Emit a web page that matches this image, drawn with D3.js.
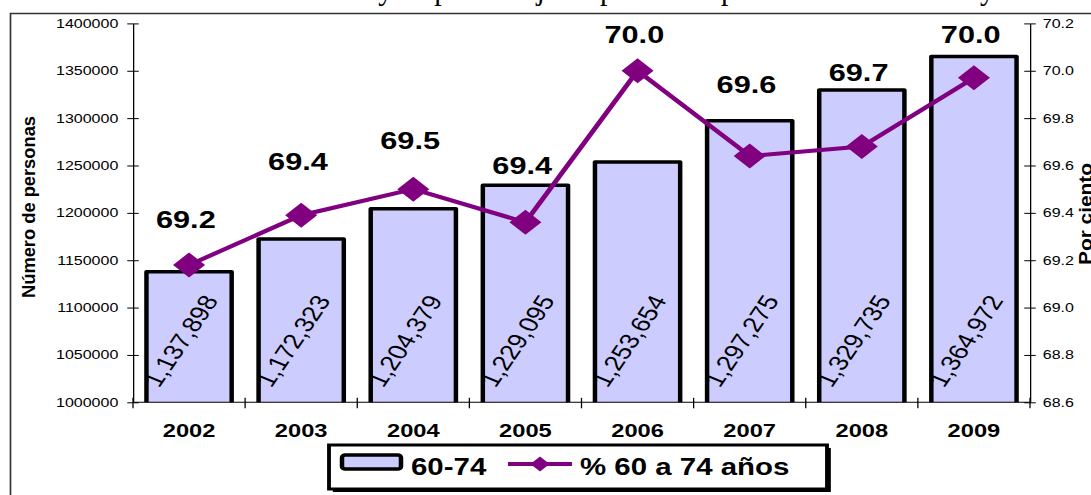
<!DOCTYPE html>
<html>
<head>
<meta charset="utf-8">
<script src="https://cdn.jsdelivr.net/npm/d3@7"></script>
<style>
html, body { margin: 0; padding: 0; background: #fff; overflow: hidden; }
svg { display: block; }
text { font-family: "Liberation Sans", Arial, sans-serif; }
</style>
</head>
<body>
<script>
// values
var years = ["2002", "2003", "2004", "2005", "2006", "2007", "2008", "2009"];
var persons = [1137898, 1172323, 1204379, 1229095, 1253654, 1297275, 1329735, 1364972];
var pct = [69.18, 69.39, 69.50, 69.36, 70.00, 69.64, 69.68, 69.97];
var leftTicks = [1000000, 1050000, 1100000, 1150000, 1200000, 1250000, 1300000, 1350000, 1400000];
var rightTicks = [68.6, 68.8, 69.0, 69.2, 69.4, 69.6, 69.8, 70.0, 70.2];
var titleText = "Población de 60 a 74 años y su porcentaje respecto a la población de 60 años y más";

// how far each % label sits above its marker (labels were hand placed)
var pctLabelLift = [37, 45, 40, 48, 28, 63, 66, 35];

// the original picture is stretched sideways, so draw narrow and scale x
var sx = 1.28;
var W = 1091, H = 495;
var purple = "#800080", lavender = "#CCCCFF";

var svg = d3.select("body").append("svg")
    .attr("width", W)
    .attr("height", H);
var g = svg.append("g")
    .attr("transform", "scale(" + sx + ",1)");

var x = d3.scaleBand()
    .domain(years)
    .range([133 / sx, 1030 / sx]);
var yL = d3.scaleLinear()
    .domain([1000000, 1400000])
    .range([402.3, 23.4]);
var yR = d3.scaleLinear()
    .domain([68.6, 70.2])
    .range([402.3, 23.4]);
var yBase = yL.range()[0];

// cut off title above the frame, only the tails show
g.append("text")
    .attr("x", 60 / sx)
    .attr("y", -1.5)
    .attr("textLength", 990 / sx)
    .attr("lengthAdjust", "spacingAndGlyphs")
    .style("font-family", "'Liberation Serif', 'Times New Roman', serif")
    .style("font-size", "32px")
    .text(titleText);

// outer frame (only top and left are inside the picture)
g.append("path")
    .attr("d", "M" + (10.5 / sx) + "," + H + "V13.5H" + (W / sx + 2))
    .attr("fill", "none")
    .attr("stroke", "#333")
    .attr("stroke-width", 1.3);

// bars
var barW = x.bandwidth() * 0.76;
var bars = g.append("g").selectAll("g")
    .data(persons)
    .enter().append("g");
bars.append("rect")
    .attr("x", function(d, i) { return x(years[i]) + (x.bandwidth() - barW) / 2; })
    .attr("y", function(d) { return yL(d); })
    .attr("width", barW)
    .attr("height", function(d) { return yBase - yL(d); })
    .attr("fill", lavender);
bars.append("path")
    .attr("d", function(d, i) {
        var l = x(years[i]) + (x.bandwidth() - barW) / 2;
        return "M" + l + "," + yBase + "V" + yL(d) + "H" + (l + barW) + "V" + yBase;
    })
    .attr("fill", "none")
    .attr("stroke", "#000")
    .attr("stroke-width", 3.5)
    .attr("stroke-linejoin", "round");

// axes, ticks cross the axis line
var tk = 4.5;
var axL = g.append("g")
    .attr("transform", "translate(" + x.range()[0] + ",0)")
    .call(d3.axisLeft(yL).tickValues(leftTicks).tickFormat(d3.format("d"))
        .tickSizeInner(tk).tickSizeOuter(0).tickPadding(7));
axL.selectAll(".tick line").attr("x1", tk);
axL.selectAll(".tick text").style("font-size", "12.5px");

var axR = g.append("g")
    .attr("transform", "translate(" + x.range()[1] + ",0)")
    .call(d3.axisRight(yR).tickValues(rightTicks).tickFormat(d3.format(".1f"))
        .tickSizeInner(tk).tickSizeOuter(0).tickPadding(5.5));
axR.selectAll(".tick line").attr("x1", -tk);
axR.selectAll(".tick text").style("font-size", "12.5px");

g.selectAll(".domain").attr("stroke", "#000");
g.selectAll(".tick line").attr("stroke", "#000");
g.selectAll(".tick text").attr("fill", "#000").style("font-family", "'Liberation Sans', Arial, sans-serif");

// category axis: line plus cross ticks on band edges
g.append("line")
    .attr("x1", x.range()[0]).attr("x2", x.range()[1])
    .attr("y1", yBase).attr("y2", yBase)
    .attr("stroke", "#000");
g.append("g").selectAll("line")
    .data(d3.range(years.length + 1))
    .enter().append("line")
    .attr("x1", function(i) { return x.range()[0] + i * x.step(); })
    .attr("x2", function(i) { return x.range()[0] + i * x.step(); })
    .attr("y1", yBase - tk).attr("y2", yBase + 6)
    .attr("stroke", "#000");
g.append("g").selectAll("text")
    .data(years)
    .enter().append("text")
    .attr("x", function(d) { return x(d) + x.bandwidth() / 2; })
    .attr("y", 437)
    .attr("text-anchor", "middle")
    .style("font-size", "18.5px")
    .style("font-weight", "bold")
    .text(function(d) { return d; });

// rotated values inside the bars
g.append("g").selectAll("text")
    .data(persons)
    .enter().append("text")
    .attr("transform", function(d, i) {
        return "translate(" + (x(years[i]) + x.bandwidth() / 2 - 6.5) + ",341) rotate(-62)";
    })
    .attr("text-anchor", "middle")
    .attr("dy", "0.35em")
    .attr("textLength", 100)
    .attr("lengthAdjust", "spacingAndGlyphs")
    .style("font-size", "21px")
    .text(function(d) { return d3.format(",")(d); });

// percentage line
var line = d3.line()
    .x(function(d, i) { return x(years[i]) + x.bandwidth() / 2; })
    .y(function(d) { return yR(d); });
g.append("path")
    .datum(pct)
    .attr("d", line)
    .attr("fill", "none")
    .attr("stroke", purple)
    .attr("stroke-width", 4);
var dm = 12.5;
g.append("g").selectAll("path")
    .data(pct)
    .enter().append("path")
    .attr("transform", function(d, i) {
        return "translate(" + (x(years[i]) + x.bandwidth() / 2) + "," + yR(d) + ")";
    })
    .attr("d", "M0," + (-dm) + "L" + dm + ",0L0," + dm + "L" + (-dm) + ",0Z")
    .attr("fill", purple);

g.append("g").selectAll("text")
    .data(pct)
    .enter().append("text")
    .attr("x", function(d, i) { return x(years[i]) + x.bandwidth() / 2 - 2.5; })
    .attr("y", function(d, i) { return yR(d) - pctLabelLift[i]; })
    .attr("text-anchor", "middle")
    .style("font-size", "24px")
    .style("font-weight", "bold")
    .text(function(d) { return d3.format(".1f")(d); });

// axis titles
g.append("text")
    .attr("transform", "translate(" + (35 / sx) + ",207) rotate(-90)")
    .attr("text-anchor", "middle")
    .attr("textLength", 182)
    .attr("lengthAdjust", "spacingAndGlyphs")
    .style("font-size", "14.5px")
    .style("font-weight", "bold")
    .text("Número de personas");
g.append("text")
    .attr("transform", "translate(" + (1092 / sx) + ",214) rotate(-90)")
    .attr("text-anchor", "middle")
    .attr("textLength", 102)
    .attr("lengthAdjust", "spacingAndGlyphs")
    .style("font-size", "14.5px")
    .style("font-weight", "bold")
    .text("Por ciento");

// legend
var lg = g.append("g");
var lx = 329 / sx, ly = 445, lw = (827 - 329) / sx, lh = 44;
lg.append("rect")
    .attr("x", lx + 3).attr("y", ly + 3)
    .attr("width", lw).attr("height", lh)
    .attr("fill", "#000");
lg.append("rect")
    .attr("x", lx).attr("y", ly)
    .attr("width", lw).attr("height", lh)
    .attr("fill", "#fff")
    .attr("stroke", "#000")
    .attr("stroke-width", 3);
lg.append("rect")
    .attr("x", 342 / sx).attr("y", 455)
    .attr("width", 59 / sx).attr("height", 14)
    .attr("rx", 2.5)
    .attr("fill", lavender)
    .attr("stroke", "#000")
    .attr("stroke-width", 3.5);
lg.append("text")
    .attr("x", 411 / sx).attr("y", 475)
    .style("font-size", "23px")
    .style("font-weight", "bold")
    .text("60-74");
lg.append("line")
    .attr("x1", 508 / sx).attr("x2", 572 / sx)
    .attr("y1", 464).attr("y2", 464)
    .attr("stroke", purple)
    .attr("stroke-width", 4);
lg.append("path")
    .attr("transform", "translate(" + (540 / sx) + ",464)")
    .attr("d", "M0,-7.5L7.5,0L0,7.5L-7.5,0Z")
    .attr("fill", purple);
lg.append("text")
    .attr("x", 580 / sx).attr("y", 475)
    .style("font-size", "23px")
    .style("font-weight", "bold")
    .text("% 60 a 74 años");
</script>
</body>
</html>
